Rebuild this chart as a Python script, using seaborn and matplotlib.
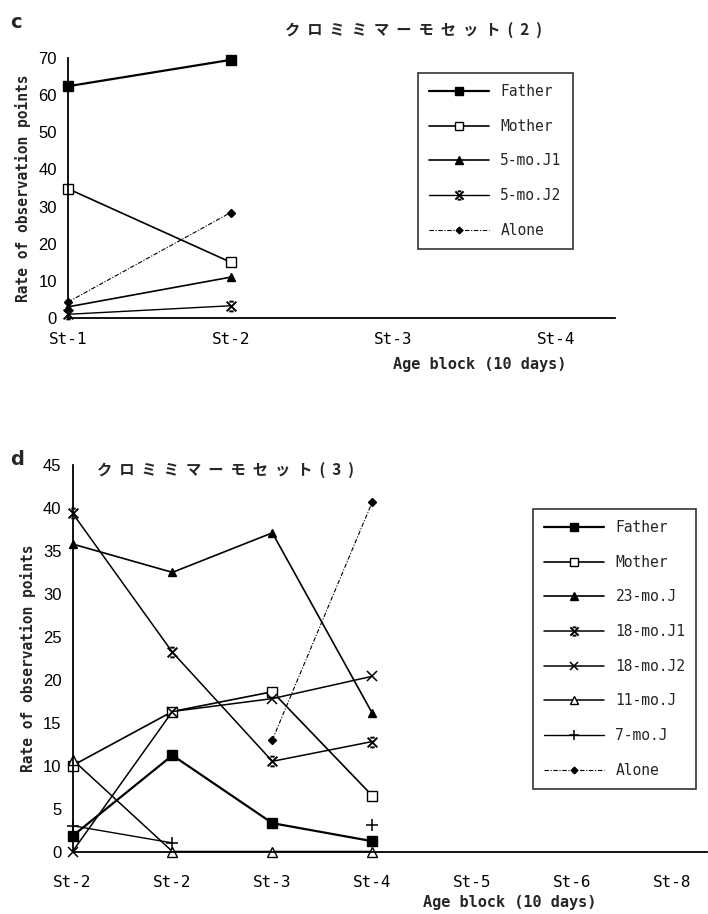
import numpy as np
import pandas as pd
import matplotlib
matplotlib.use("Agg")
import matplotlib.pyplot as plt
from matplotlib.path import Path
from matplotlib.lines import Line2D
import seaborn as sns

# ---------------- data ----------------
c_ticks = ["St-1", "St-2", "St-3", "St-4"]
c_father = [62.4, 69.5]
c_mother = [34.8, 15.0]
c_j1 = [3.0, 11.0]
c_j2 = [1.0, 3.3]
c_alone = [4.3, 28.4]

d_ticks = ["St-2", "St-2", "St-3", "St-4", "St-5", "St-6", "St-8"]
d_father = [1.8, 11.2, 3.3, 1.2]
d_mother = [10.0, 16.3, 18.6, 6.5]
d_23mo = [35.8, 32.5, 37.1, 16.1]
d_18mo_j1 = [39.4, 23.2, 10.5, 12.8]
d_18mo_j2 = [0.0, 16.3, 17.8, 20.4]
d_11mo = [10.7, 0.0, 0.0, 0.0]
d_7mo = [3.0, 1.0, np.nan, 3.1]
d_alone = [np.nan, np.nan, 13.0, 40.7]

c_title = "ク  ロ  ミ  ミ  マ  ー  モ  セ  ッ  ト  (  2  )"
d_title = "ク  ロ  ミ  ミ  マ  ー  モ  セ  ッ  ト  (  3  )"

# ---------------- style ----------------
sns.set_theme(style="white")
plt.rcParams["font.family"] = ["DejaVu Sans"]

starx = Path(
    [(-1, -1), (1, 1), (-1, 1), (1, -1), (-0.45, 1), (0.45, 1), (-0.45, -1), (0.45, -1)],
    [Path.MOVETO, Path.LINETO, Path.MOVETO, Path.LINETO,
     Path.MOVETO, Path.LINETO, Path.MOVETO, Path.LINETO],
)

styles = {
    "Father": dict(marker="s", ms=7, mfc="black", mec="black", lw=1.6, ls="-"),
    "Mother": dict(marker="s", ms=7, mfc="white", mec="black", lw=1.2, ls="-"),
    "5-mo.J1": dict(marker="^", ms=6, mfc="black", mec="black", lw=1.2, ls="-"),
    "5-mo.J2": dict(marker=starx, ms=7, mfc="none", mec="black", lw=1.0, ls="-", mew=1.4),
    "Alone": dict(marker="D", ms=4, mfc="black", mec="black", lw=0.8, ls=(0, (4, 1.5, 1, 1.5))),
    "23-mo.J": dict(marker="^", ms=6, mfc="black", mec="black", lw=1.2, ls="-"),
    "18-mo.J1": dict(marker=starx, ms=7, mfc="none", mec="black", lw=1.1, ls="-", mew=1.4),
    "18-mo.J2": dict(marker="x", ms=7, mfc="black", mec="black", lw=1.1, ls="-", mew=1.1),
    "11-mo.J": dict(marker="^", ms=7, mfc="white", mec="black", lw=1.1, ls="-"),
    "7-mo.J": dict(marker="+", ms=8, mfc="black", mec="black", lw=1.0, ls="-", mew=1.1),
}

def draw_series(ax, name, vals):
    st = styles[name]
    vals = np.asarray(vals, dtype=float)
    x = np.arange(len(vals))
    seg = []
    segs = []
    for xi, v in zip(x, vals):
        if np.isnan(v):
            if seg:
                segs.append(seg)
            seg = []
        else:
            seg.append((xi, v))
    if seg:
        segs.append(seg)
    for s in segs:
        df = pd.DataFrame(s, columns=["x", "y"])
        sns.lineplot(data=df, x="x", y="y", ax=ax, color="black", estimator=None,
                     sort=False, linewidth=st["lw"],
                     marker=st["marker"], markersize=st["ms"], markerfacecolor=st["mfc"],
                     markeredgecolor=st["mec"], markeredgewidth=st.get("mew", 1.0),
                     legend=False)
        ax.lines[-1].set_linestyle(st["ls"])
        ax.lines[-1].set_clip_on(False)

def handle(name):
    st = styles[name]
    return Line2D([0], [0], color="black", lw=st["lw"], ls=st["ls"], marker=st["marker"],
                  markersize=st["ms"] * 0.85, markerfacecolor=st["mfc"], markeredgecolor=st["mec"],
                  markeredgewidth=st.get("mew", 1.0))

W, H = 708, 914
fig = plt.figure(figsize=(W / 100, H / 100), dpi=100)

def style_axes(ax, ticks, xmax, ymax, ystep, xpad):
    ax.set_xlim(0, xmax)
    ax.set_ylim(0, ymax)
    ax.set_xticks(range(len(ticks)))
    ax.set_xticklabels(ticks, family="DejaVu Sans Mono", fontsize=11.5)
    ax.set_yticks(np.arange(0, ymax + 0.1, ystep))
    ax.set_yticklabels([f"{int(v)}" for v in np.arange(0, ymax + 0.1, ystep)], fontsize=12,
                       family="Liberation Sans")
    for s in ["top", "right"]:
        ax.spines[s].set_visible(False)
    for s in ["left", "bottom"]:
        ax.spines[s].set_color("black")
        ax.spines[s].set_linewidth(1.3)
    ax.tick_params(axis="x", direction="in", length=4, width=1, colors="black", pad=xpad)
    ax.tick_params(axis="y", direction="in", length=0, width=1, colors="black", pad=8)
    ax.set_xlabel("")
    ax.set_ylabel("Rate of observation points", family="DejaVu Sans Mono", fontsize=10.5,
                  fontweight="bold", labelpad=5)
    ax.grid(False)

legend_kw = dict(loc="upper left", frameon=True, fancybox=False, edgecolor="black",
                 prop=dict(family="DejaVu Sans Mono", size=10.5),
                 handlelength=4.1, handletextpad=0.8, labelspacing=1.35, borderpad=0.75,
                 borderaxespad=0)

# ---------------- chart c ----------------
axc = fig.add_axes([68 / W, 1 - 318 / H, (615 - 68) / W, (318 - 58) / H])
for name, vals in [("Father", c_father), ("Mother", c_mother), ("5-mo.J1", c_j1),
                   ("5-mo.J2", c_j2), ("Alone", c_alone)]:
    draw_series(axc, name, vals)
style_axes(axc, c_ticks, 3.36, 70, 10, 10)
names_c = ["Father", "Mother", "5-mo.J1", "5-mo.J2", "Alone"]
legc = fig.legend([handle(n) for n in names_c], names_c,
                  bbox_to_anchor=(418 / W, 1 - 73 / H), **legend_kw)
legc.get_frame().set_linewidth(1.2)

fig.text(10 / W, 1 - 22 / H, "c", fontsize=14, fontweight="bold", va="center", ha="left")
fig.text(285 / W, 1 - 30 / H, c_title, fontsize=11, fontweight="bold", va="center", ha="left",
         family=["Noto Sans CJK JP", "DejaVu Sans"])
fig.text(480 / W, 1 - 365 / H, "Age block (10 days)", fontsize=11, va="center", ha="center",
         family="DejaVu Sans Mono", fontweight="bold")

# ---------------- chart d ----------------
axd = fig.add_axes([72.5 / W, 1 - 851.5 / H, (707 - 72.5) / W, (851.5 - 465) / H])
for name, vals in [("Father", d_father), ("Mother", d_mother), ("23-mo.J", d_23mo),
                   ("18-mo.J1", d_18mo_j1), ("18-mo.J2", d_18mo_j2), ("11-mo.J", d_11mo),
                   ("7-mo.J", d_7mo), ("Alone", d_alone)]:
    draw_series(axd, name, vals)
style_axes(axd, d_ticks, 6.35, 45, 5, 17)
names_d = ["Father", "Mother", "23-mo.J", "18-mo.J1", "18-mo.J2", "11-mo.J", "7-mo.J", "Alone"]
legd = fig.legend([handle(n) for n in names_d], names_d,
                  bbox_to_anchor=(533 / W, 1 - 509 / H), **legend_kw)
legd.get_frame().set_linewidth(1.2)

fig.text(10 / W, 1 - 460 / H, "d", fontsize=14, fontweight="bold", va="center", ha="left")
fig.text(97 / W, 1 - 470 / H, d_title, fontsize=11, fontweight="bold", va="center", ha="left",
         family=["Noto Sans CJK JP", "DejaVu Sans"])
fig.text(510 / W, 1 - 903 / H, "Age block (10 days)", fontsize=11, va="center", ha="center",
         family="DejaVu Sans Mono", fontweight="bold")

fig.savefig("out.png", dpi=100, facecolor="white")
